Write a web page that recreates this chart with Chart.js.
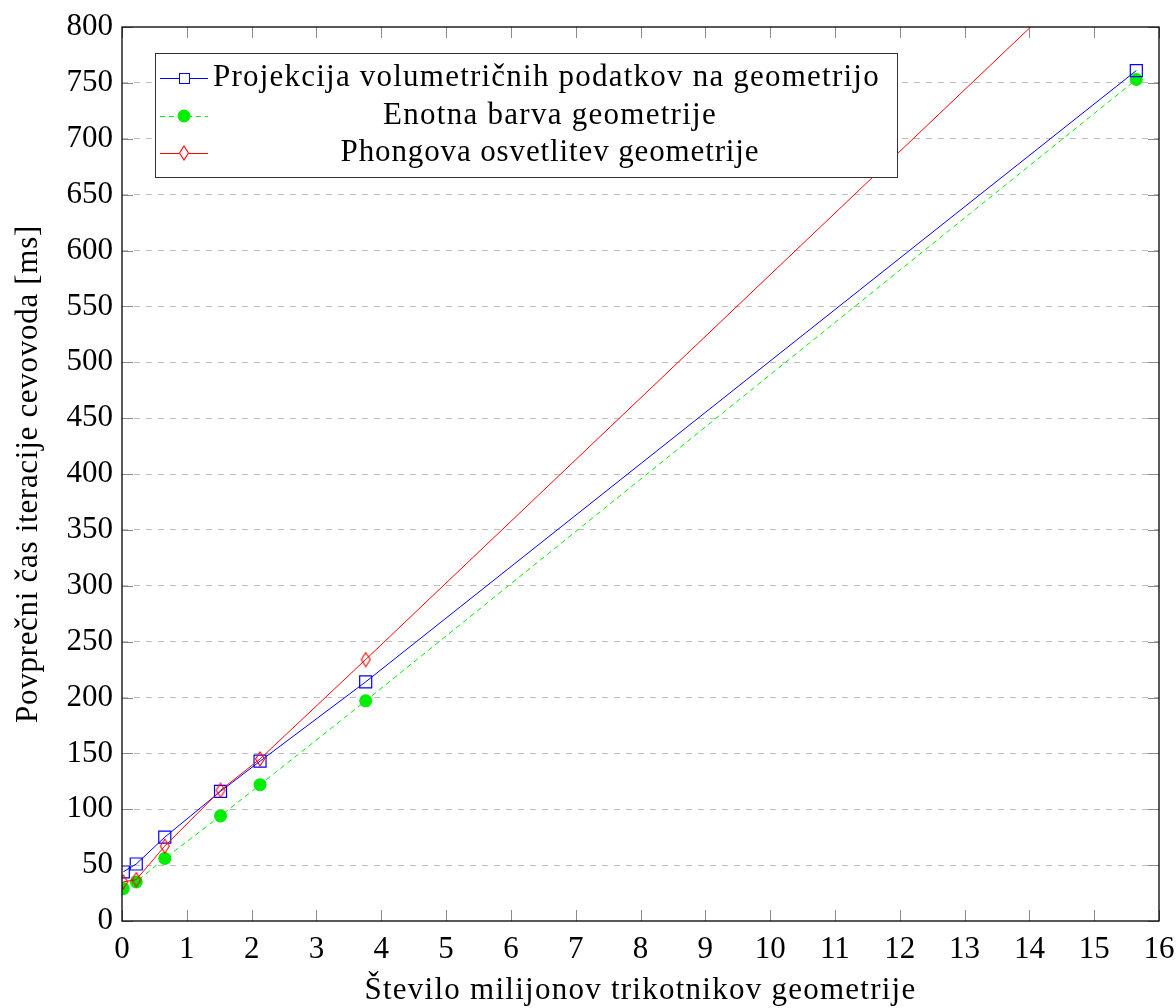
<!DOCTYPE html>
<html>
<head>
<meta charset="utf-8">
<script src="https://cdn.jsdelivr.net/npm/chart.js@4.4.1/dist/chart.umd.min.js"></script>
<style>
  html, body { margin: 0; padding: 0; background: #fff; }
  #wrap { width: 1176px; height: 1008px; }
</style>
</head>
<body>
<div id="wrap"><canvas id="c" width="1176" height="1008"></canvas></div>
<script>
// -------- Podatki --------
const triangles = [0.02, 0.22, 0.66, 1.52, 2.13, 3.76, 15.65];  // milijoni trikotnikov
const projekcija = [44, 51, 75, 116, 143, 214, 761];
const enotna = [29, 35, 56, 94, 122, 197, 753];
const phong = [35, 37, 67, 117, 145, 234, 890];
const seriesNames = [
  "Projekcija volumetričnih podatkov na geometrijo",
  "Enotna barva geometrije",
  "Phongova osvetlitev geometrije"
];
const xTicks = [0, 1, 2, 3, 4, 5, 6, 7, 8, 9, 10, 11, 12, 13, 14, 15, 16];
const yTicks = [0, 50, 100, 150, 200, 250, 300, 350, 400, 450, 500, 550, 600, 650, 700, 750, 800];
const xTitle = "Število milijonov trikotnikov geometrije";
const yTitle = "Povprečni čas iteracije cevovoda [ms]";

const FONT = "'Liberation Serif', 'DejaVu Serif', serif";
const toPts = ys => ys.map((y, i) => ({ x: triangles[i], y }));

// rdeč diamant (ožji kot rectRot)
function makeDiamond() {
  const c = document.createElement("canvas");
  c.width = 12; c.height = 16;
  const g = c.getContext("2d");
  g.strokeStyle = "#ff0000";
  g.lineWidth = 1.1;
  g.beginPath();
  g.moveTo(6, 1); g.lineTo(10.5, 8); g.lineTo(6, 15); g.lineTo(1.5, 8);
  g.closePath();
  g.stroke();
  return c;
}
const diamond = makeDiamond();

// razmik črk, da besedilo doseže ciljno širino (Computer Modern je širši)
function spaceTo(ctx, text, target) {
  ctx.letterSpacing = "0px";
  const w = ctx.measureText(text).width;
  ctx.letterSpacing = ((target - w) / text.length).toFixed(2) + "px";
}

// -------- Okvir, oznake, naslovi osi in legenda --------
const framePlugin = {
  id: "frame",
  afterDraw(chart) {
    const { ctx, chartArea: a, scales } = chart;
    ctx.save();
    // notranje oznake
    ctx.strokeStyle = "#8a8a8a";
    ctx.lineWidth = 1;
    ctx.beginPath();
    xTicks.forEach(v => {
      const px = Math.round(scales.x.getPixelForValue(v)) + 0.5;
      ctx.moveTo(px, a.bottom); ctx.lineTo(px, a.bottom - 11);
      ctx.moveTo(px, a.top); ctx.lineTo(px, a.top + 11);
    });
    yTicks.forEach(v => {
      const py = Math.round(scales.y.getPixelForValue(v)) + 0.5;
      ctx.moveTo(a.left, py); ctx.lineTo(a.left + 11, py);
      ctx.moveTo(a.right, py); ctx.lineTo(a.right - 11, py);
    });
    ctx.stroke();
    // okvir
    ctx.strokeStyle = "#000";
    ctx.lineWidth = 1.3;
    ctx.strokeRect(a.left, a.top, a.right - a.left, a.bottom - a.top);

    // naslova osi
    ctx.fillStyle = "#000";
    ctx.font = "31px " + FONT;
    ctx.textAlign = "center";
    ctx.textBaseline = "alphabetic";
    spaceTo(ctx, xTitle, 552);
    ctx.fillText(xTitle, (a.left + a.right) / 2, 999);
    ctx.save();
    ctx.translate(37, (a.top + a.bottom) / 2);
    ctx.rotate(-Math.PI / 2);
    spaceTo(ctx, yTitle, 498);
    ctx.fillText(yTitle, 0, 0);
    ctx.restore();

    // legenda
    const bx = 155, by = 53, bw = 742, bh = 124;
    ctx.fillStyle = "#fff";
    ctx.fillRect(bx, by, bw, bh);
    ctx.strokeStyle = "#333";
    ctx.lineWidth = 1;
    ctx.strokeRect(bx + 0.5, by + 0.5, bw, bh);
    const rows = [78, 116, 153];
    const base = [86, 124, 161];
    const widths = [667, 334, 419];
    chart.data.datasets.forEach((ds, i) => {
      const y = rows[i];
      ctx.strokeStyle = ds.borderColor;
      ctx.lineWidth = 1;
      ctx.setLineDash(ds.borderDash || []);
      ctx.beginPath();
      ctx.moveTo(160, y + 0.5); ctx.lineTo(208, y + 0.5);
      ctx.stroke();
      ctx.setLineDash([]);
      const cx = 184;
      if (ds.pointStyle === "rect") {
        ctx.fillStyle = "#fff";
        ctx.fillRect(cx - 5, y - 5, 10, 10);
        ctx.strokeStyle = ds.borderColor;
        ctx.strokeRect(cx - 5 + 0.5, y - 5 + 0.5, 10, 10);
      } else if (ds.pointStyle === "circle") {
        ctx.fillStyle = ds.pointBackgroundColor;
        ctx.beginPath(); ctx.arc(cx, y, 6.5, 0, Math.PI * 2); ctx.fill();
      } else {
        ctx.fillStyle = "#fff";
        ctx.fillRect(cx - 5, y - 7, 10, 14);
        ctx.drawImage(diamond, cx - 6, y - 8);
      }
      ctx.fillStyle = "#000";
      ctx.font = "31px " + FONT;
      spaceTo(ctx, ds.label, widths[i]);
      if (i === 0) {
        ctx.textAlign = "left";
        ctx.fillText(ds.label, 213, base[i]);
      } else {
        ctx.textAlign = "center";
        ctx.fillText(ds.label, 550, base[i]);
      }
    });
    ctx.letterSpacing = "0px";
    ctx.restore();
  }
};

new Chart(document.getElementById("c"), {
  type: "line",
  data: {
    datasets: [
      {
        label: seriesNames[0],
        data: toPts(projekcija),
        borderColor: "#0000ff",
        borderWidth: 1,
        pointStyle: "rect",
        pointRadius: 8.5,
        pointBorderWidth: 1.2,
        pointBackgroundColor: "rgba(255,255,255,0)",
        pointBorderColor: "#0000ff",
        order: 2
      },
      {
        label: seriesNames[1],
        data: toPts(enotna),
        borderColor: "#00ee00",
        borderWidth: 1,
        borderDash: [5, 4],
        pointStyle: "circle",
        pointRadius: 6.5,
        pointBorderWidth: 0,
        pointBackgroundColor: "#00ee00",
        pointBorderColor: "#00ee00",
        order: 3
      },
      {
        label: seriesNames[2],
        data: toPts(phong),
        borderColor: "#ff0000",
        borderWidth: 1,
        pointStyle: diamond,
        pointRadius: 6,
        order: 1
      }
    ]
  },
  options: {
    responsive: false,
    animation: false,
    layout: { padding: { top: 27, right: 17, left: 0, bottom: 0 } },
    plugins: { legend: { display: false }, tooltip: { enabled: false } },
    scales: {
      x: {
        type: "linear",
        min: 0,
        max: 16,
        afterBuildTicks: s => { s.ticks = xTicks.map(v => ({ value: v })); },
        afterFit: s => { s.height = 87; s.paddingLeft = 0; s.paddingRight = 0; },
        grid: { display: false, drawTicks: false },
        border: { display: false },
        ticks: { color: "#000", font: { family: FONT, size: 31 }, padding: 10, maxRotation: 0 }
      },
      y: {
        min: 0,
        max: 800,
        afterBuildTicks: s => { s.ticks = yTicks.map(v => ({ value: v })); },
        afterFit: s => { s.width = 122; s.paddingTop = 0; s.paddingBottom = 0; },
        grid: {
          color: c => (c.tick.value === 0 || c.tick.value === 800) ? "rgba(0,0,0,0)" : "#bdbdbd",
          lineWidth: 1,
          drawTicks: false
        },
        border: { display: false, dash: [6, 6] },
        ticks: { color: "#000", font: { family: FONT, size: 31 }, padding: 9 }
      }
    }
  },
  plugins: [framePlugin]
});
</script>
</body>
</html>
